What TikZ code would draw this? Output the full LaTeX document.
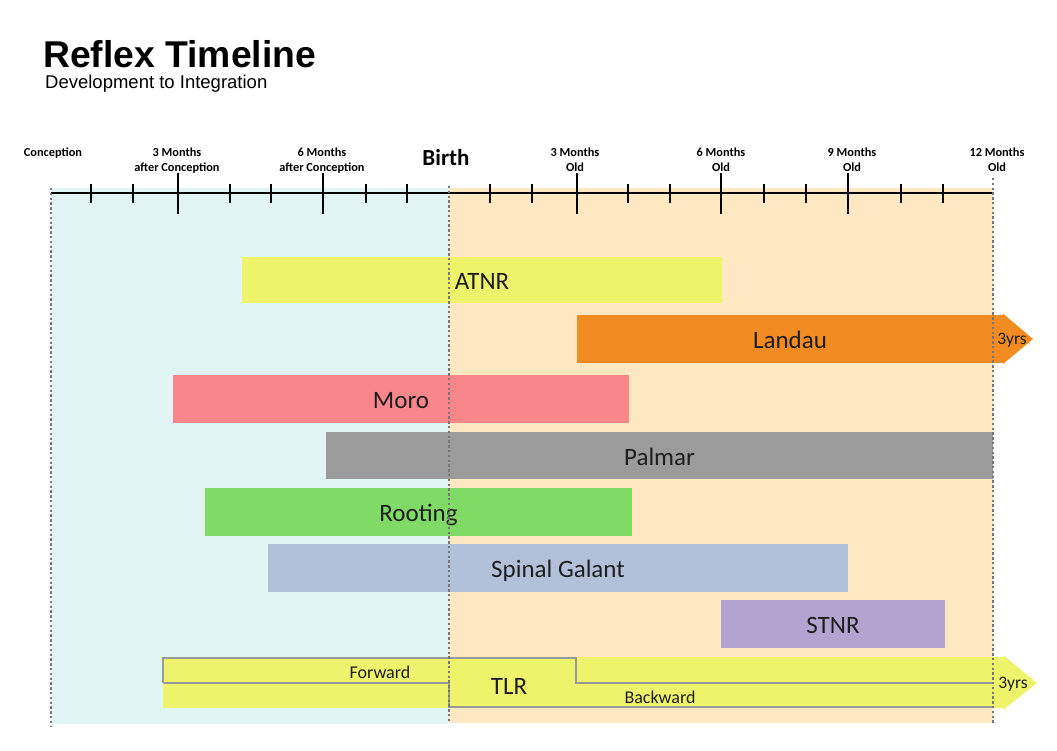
\documentclass[tikz,border=0pt]{standalone}
\usepackage{fontspec}
\setmainfont{Carlito}
\newfontfamily\arialf{Liberation Sans}
\definecolor{bgpre}{HTML}{E1F5F5}
\definecolor{bgpost}{HTML}{FDE8C2}
\definecolor{barY}{HTML}{EDF46C}
\definecolor{barO}{HTML}{F28C22}
\definecolor{barP}{HTML}{F8868A}
\definecolor{barG}{HTML}{9B9B9B}
\definecolor{barGr}{HTML}{80DA66}
\definecolor{barB}{HTML}{B2C0DA}
\definecolor{barV}{HTML}{B3A3D1}
\definecolor{dotc}{HTML}{767676}
\definecolor{outl}{HTML}{9A9A9A}
\definecolor{txt}{HTML}{1E1E1E}
\begin{document}
\begin{tikzpicture}[x=1pt,y=-1pt,
  bar/.style={rectangle, draw=none, inner sep=0pt, text=txt, text height=20pt, text depth=1pt, font=\fontsize{25}{25}\selectfont},
  hdr/.style={inner sep=0pt, anchor=north, align=center, font=\bfseries\fontsize{12.3}{14.5}\selectfont},
  small/.style={inner sep=0pt, text=txt, font=\fontsize{18}{18}\selectfont},
  dotline/.style={dotc, line width=2.4pt, dash pattern=on 2.4pt off 2.4pt},
  minortick/.style={line width=2pt},
  majortick/.style={line width=2.8pt},
  outline/.style={outl, line width=1.6pt}]
\useasboundingbox (0,0) rectangle (1057,750);
\fill[white] (0,0) rectangle (1057,750);
% backgrounds
\fill[bgpre] (51,188) rectangle (449,724);
\fill[bgpost] (449,188) rectangle (993,723);
% title
\node[anchor=base west, inner sep=0pt, font=\arialf\bfseries\fontsize{37.3}{37.3}\selectfont] (title) at (43,67) {Reflex Timeline};
\node[anchor=base west, inner sep=0pt, font=\arialf\fontsize{18.5}{18.5}\selectfont] (subtitle) at (45,88) {Development to Integration};
% headers
\node[hdr] (hconc) at (53,148) {Conception};
\node[hdr] (h3a) at (177,148) {3 Months\\after Conception};
\node[hdr] (h6a) at (322,148) {6 Months\\after Conception};
\node[inner sep=0pt, font=\bfseries\fontsize{23}{23}\selectfont] (hbirth) at (446,158) {Birth};
\node[hdr] (h3o) at (575,148) {3 Months\\Old};
\node[hdr] (h6o) at (721,148) {6 Months\\Old};
\node[hdr] (h9o) at (852,148) {9 Months\\Old};
\node[hdr] (h12o) at (997,148) {12 Months\\Old};
% axis
\coordinate (axL) at (51,193);
\coordinate (axR) at (993,193);
\draw[line width=2pt] (axL) -- (axR);
\foreach \x in {91,133,230,271,366,407,490,532,628,670,764,806,901,943}
  \draw[minortick] (\x,184) -- (\x,203);
\foreach \x in {178,323,577,721,848}
  \draw[majortick] (\x,173) -- (\x,214);
% bars
\node[bar, fill=barY, minimum width=480pt, minimum height=46pt] (atnr) at (482,280) {ATNR};
\node[bar, fill=barO, minimum width=426pt, minimum height=48pt] (landau) at (790,339) {Landau};
\fill[barO] (landau.north east) -- ++(0,-1) -- (1033,339) -- (1003,364) -- (landau.south east) -- cycle;
\node[small, font=\fontsize{17.5}{17.5}\selectfont] (l3yrs) at (1012,340) {3yrs};
\node[bar, fill=barP, minimum width=456pt, minimum height=48pt] (moro) at (401,399) {Moro};
\node[bar, fill=barG, minimum width=667pt, minimum height=47pt] (palmar) at (659.5,455.5) {Palmar};
\node[bar, fill=barGr, minimum width=427pt, minimum height=48pt] (rooting) at (418.5,512) {Rooting};
\node[bar, fill=barB, minimum width=580pt, minimum height=48pt] (spinal) at (558,568) {Spinal Galant};
\node[bar, fill=barV, minimum width=224pt, minimum height=48pt] (stnr) at (833,624) {STNR};
% TLR
\node[bar, fill=barY, minimum width=840pt, minimum height=51pt] (tlrbar) at (583,682.5) {};
\fill[barY] (tlrbar.north east) -- (1003,655) -- (1037,683) -- (1003,710) -- (tlrbar.south east) -- cycle;
\coordinate (fwTL) at (163,658);
\coordinate (fwStep) at (576,658);
\coordinate (bwTL) at (449,683);
\draw[outline] (163,683) -- (fwTL) -- (fwStep) -- (576,683) -- (993,683);
\draw[outline] (163,683) -- (bwTL) -- (449,707) -- (993,707);
\node[small] (fwd) at (380,672) {Forward};
\node[bar] (tlr) at (509,685) {TLR};
\node[small] (bwd) at (660,697) {Backward};
\node[small, font=\fontsize{17.5}{17.5}\selectfont] (t3yrs) at (1013,684) {3yrs};
% dotted lines
\draw[dotline] (51,188) -- (51,727);
\draw[dotline] (449,186) -- (449,722);
\draw[dotline] (993,178) -- (993,725);
\end{tikzpicture}
\end{document}
